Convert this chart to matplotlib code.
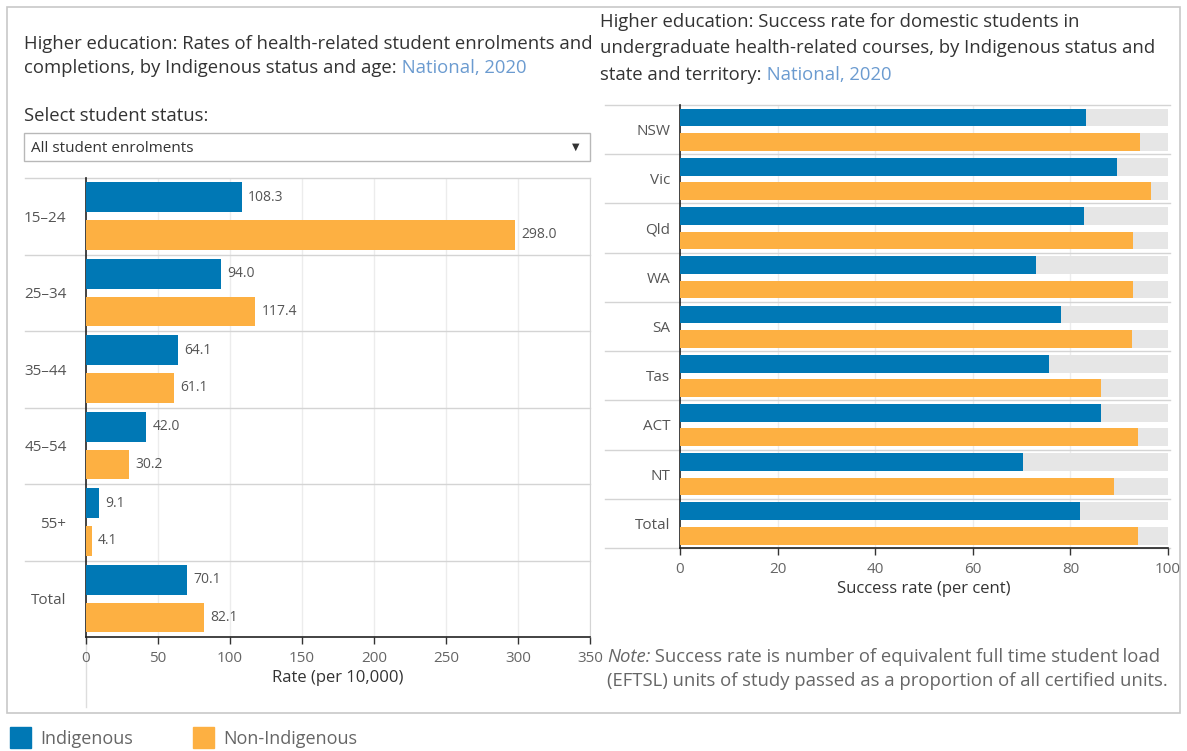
#!/usr/bin/env python3
"""
Health-related higher education dashboard: enrolment rates by age and
success rates by state/territory, Indigenous vs non-Indigenous, 2020.
"""

import matplotlib
matplotlib.use("Agg")
import matplotlib.pyplot as plt
from matplotlib.patches import Rectangle

plt.rcParams["font.family"] = ["Open Sans", "DejaVu Sans"]

# ----------------------------------------------------------------------
# Data
# ----------------------------------------------------------------------
AGE_GROUPS = ["15–24", "25–34", "35–44", "45–54", "55+", "Total"]
RATE_INDIG = [108.3, 94.0, 64.1, 42.0, 9.1, 70.1]
RATE_NON_INDIG = [298.0, 117.4, 61.1, 30.2, 4.1, 82.1]
RATE_TICKS = [0, 50, 100, 150, 200, 250, 300, 350]

STATES = ["NSW", "Vic", "Qld", "WA", "SA", "Tas", "ACT", "NT", "Total"]
SUCCESS_INDIG = [83.2, 89.6, 82.7, 72.9, 78.1, 75.6, 86.3, 70.3, 82.0]
SUCCESS_NON_INDIG = [94.2, 96.5, 92.9, 92.9, 92.6, 86.3, 93.9, 88.9, 93.9]
SUCCESS_TICKS = [0, 20, 40, 60, 80, 100]

SERIES = ["Indigenous", "Non-Indigenous"]

# ----------------------------------------------------------------------
# Styling
# ----------------------------------------------------------------------
BLUE = "#0078b5"
ORANGE = "#fdb042"
TRACK = "#e6e6e6"
TEXT_DARK = "#333333"
TEXT_MID = "#555555"
TEXT_LIGHT = "#666666"
LINK = "#6b9bd0"
GRID = "#ececec"
SEP = "#d4d4d4"

FS_TITLE = 13.3
FS_AXIS = 12
FS_SMALL = 11
FS_VALUE = 10

W, H = 1187, 751
fig = plt.figure(figsize=(W / 100, H / 100), dpi=100)

# full-figure overlay in pixel coordinates for text and frames
bg = fig.add_axes([0, 0, 1, 1])
bg.set_xlim(0, W)
bg.set_ylim(H, 0)
bg.axis("off")
bg.set_zorder(-1)


def add_panel(x0, y0, x1, y1):
    return fig.add_axes([x0 / W, 1 - y1 / H, (x1 - x0) / W, (y1 - y0) / H])


# outer frame
bg.add_patch(Rectangle((7, 7), 1173, 706, fill=False, ec="#c8c8c8", lw=1.2))

# ----------------------------------------------------------------------
# Left panel: rates by age
# ----------------------------------------------------------------------
t1 = bg.text(24, 44, "Higher education: Rates of health-related student enrolments and",
             fontsize=FS_TITLE, color=TEXT_DARK, va="center")
t2 = bg.text(24, 68, "completions, by Indigenous status and age:",
             fontsize=FS_TITLE, color=TEXT_DARK, va="center")
bg.annotate(" National, 2020", xy=(1, 0), xycoords=t2, va="bottom",
            fontsize=FS_TITLE, color=LINK)

bg.text(24, 116, "Select student status:", fontsize=FS_TITLE, color=TEXT_DARK, va="center")
bg.add_patch(Rectangle((24, 133), 566, 28, fill=False, ec="#b8b8b8", lw=1))
bg.text(31, 148, "All student enrolments", fontsize=FS_SMALL, color=TEXT_DARK, va="center")
bg.text(576, 147, "▼", fontsize=7, color=TEXT_DARK, va="center", ha="center",
        family="DejaVu Sans")

L_X0, L_X1, L_Y0, L_Y1 = 86, 590, 178, 637
ax1 = add_panel(L_X0, L_Y0, L_X1, L_Y1)
n1 = len(AGE_GROUPS)
pos = list(range(n1))
ax1.barh([p + 0.25 for p in pos], RATE_INDIG, height=0.39, color=BLUE, zorder=3)
ax1.barh([p + 0.745 for p in pos], RATE_NON_INDIG, height=0.39, color=ORANGE, zorder=3)
for p, vi, vn in zip(pos, RATE_INDIG, RATE_NON_INDIG):
    ax1.annotate(f"{vi:.1f}", xy=(vi, p + 0.25), xytext=(4.5, 0), textcoords="offset points",
                 va="center", fontsize=FS_VALUE, color=TEXT_MID)
    ax1.annotate(f"{vn:.1f}", xy=(vn, p + 0.745), xytext=(4.5, 0), textcoords="offset points",
                 va="center", fontsize=FS_VALUE, color=TEXT_MID)

ax1.set_xlim(0, 350)
ax1.set_ylim(n1, 0)
ax1.set_xticks(RATE_TICKS)
ax1.set_xticklabels([str(t) for t in RATE_TICKS], fontsize=FS_SMALL, color=TEXT_LIGHT)
ax1.set_yticks([p + 0.5 for p in pos])
ax1.set_yticklabels(AGE_GROUPS, fontsize=FS_SMALL, color=TEXT_MID)
ax1.tick_params(axis="y", length=0, pad=14)
ax1.tick_params(axis="x", length=5, width=1, color="#333333", pad=5)
ax1.set_xlabel("Rate (per 10,000)", fontsize=FS_AXIS, color=TEXT_DARK, labelpad=3)
for t in RATE_TICKS[1:]:
    ax1.axvline(t, color=GRID, lw=1, zorder=0)
lead = (L_X0 - 25) / (L_X1 - L_X0)
for y in range(n1):
    ax1.axhline(y, xmin=-lead, xmax=1, color=SEP, lw=1, clip_on=False, zorder=1)
ax1.spines["top"].set_visible(False)
ax1.spines["right"].set_color(SEP)
ax1.spines["left"].set_color("#222222")
ax1.spines["bottom"].set_color("#222222")
ax1.spines["left"].set_linewidth(1.2)
ax1.spines["bottom"].set_linewidth(1.2)
# zero-line extension under the axis
bg.plot([L_X0, L_X0], [L_Y1, 707], color="#dddddd", lw=1)

# ----------------------------------------------------------------------
# Right panel: success rate by state and territory
# ----------------------------------------------------------------------
bg.text(600, 22, "Higher education: Success rate for domestic students in",
        fontsize=FS_TITLE, color=TEXT_DARK, va="center")
bg.text(600, 48, "undergraduate health-related courses, by Indigenous status and",
        fontsize=FS_TITLE, color=TEXT_DARK, va="center")
t3 = bg.text(600, 75, "state and territory:", fontsize=FS_TITLE, color=TEXT_DARK, va="center")
bg.annotate(" National, 2020", xy=(1, 0), xycoords=t3, va="bottom",
            fontsize=FS_TITLE, color=LINK)

R_X0, R_X1, R_Y0, R_Y1 = 680, 1168, 105, 548
ax2 = add_panel(R_X0, R_Y0, R_X1, R_Y1)
n2 = len(STATES)
pos2 = list(range(n2))
full = [100] * n2
ax2.barh([p + 0.255 for p in pos2], full, height=0.36, color=TRACK, zorder=1)
ax2.barh([p + 0.75 for p in pos2], full, height=0.36, color=TRACK, zorder=1)
ax2.barh([p + 0.255 for p in pos2], SUCCESS_INDIG, height=0.36, color=BLUE, zorder=3)
ax2.barh([p + 0.75 for p in pos2], SUCCESS_NON_INDIG, height=0.36, color=ORANGE, zorder=3)

ax2.set_xlim(0, 100)
ax2.set_ylim(n2, 0)
ax2.set_xticks(SUCCESS_TICKS)
ax2.set_xticklabels([str(t) for t in SUCCESS_TICKS], fontsize=FS_SMALL, color=TEXT_LIGHT)
ax2.set_yticks([p + 0.5 for p in pos2])
ax2.set_yticklabels(STATES, fontsize=FS_SMALL, color=TEXT_MID)
ax2.tick_params(axis="y", length=0, pad=7)
ax2.tick_params(axis="x", length=5, width=1, color="#333333", pad=5)
ax2.set_xlabel("Success rate (per cent)", fontsize=FS_AXIS, color=TEXT_DARK, labelpad=3)
for t in SUCCESS_TICKS[1:-1]:
    ax2.axvline(t, color=GRID, lw=1, zorder=0)
lead2 = (R_X0 - 605) / (R_X1 - R_X0)
for y in range(n2 + 1):
    ax2.axhline(y, xmin=-lead2, xmax=1.005, color=SEP, lw=1, clip_on=False, zorder=0)
for side in ["top", "right"]:
    ax2.spines[side].set_visible(False)
ax2.spines["left"].set_color("#222222")
ax2.spines["bottom"].set_color("#222222")
ax2.spines["left"].set_linewidth(1.2)
ax2.spines["bottom"].set_linewidth(1.2)

t4 = bg.text(607, 657, "Note:", fontsize=FS_TITLE, color=TEXT_LIGHT, va="center", style="italic")
bg.annotate(" Success rate is number of equivalent full time student load",
            xy=(1, 0), xycoords=t4, va="bottom", fontsize=FS_TITLE, color=TEXT_LIGHT)
bg.text(607, 681, "(EFTSL) units of study passed as a proportion of all certified units.",
        fontsize=FS_TITLE, color=TEXT_LIGHT, va="center")

# ----------------------------------------------------------------------
# Legend
# ----------------------------------------------------------------------
for x, colour, label in zip([10, 193], [BLUE, ORANGE], SERIES):
    bg.add_patch(Rectangle((x, 727), 21, 21, color=colour))
    bg.text(x + 30, 739, label, fontsize=13, color=TEXT_LIGHT, va="center")

fig.savefig("out.png", dpi=100)
